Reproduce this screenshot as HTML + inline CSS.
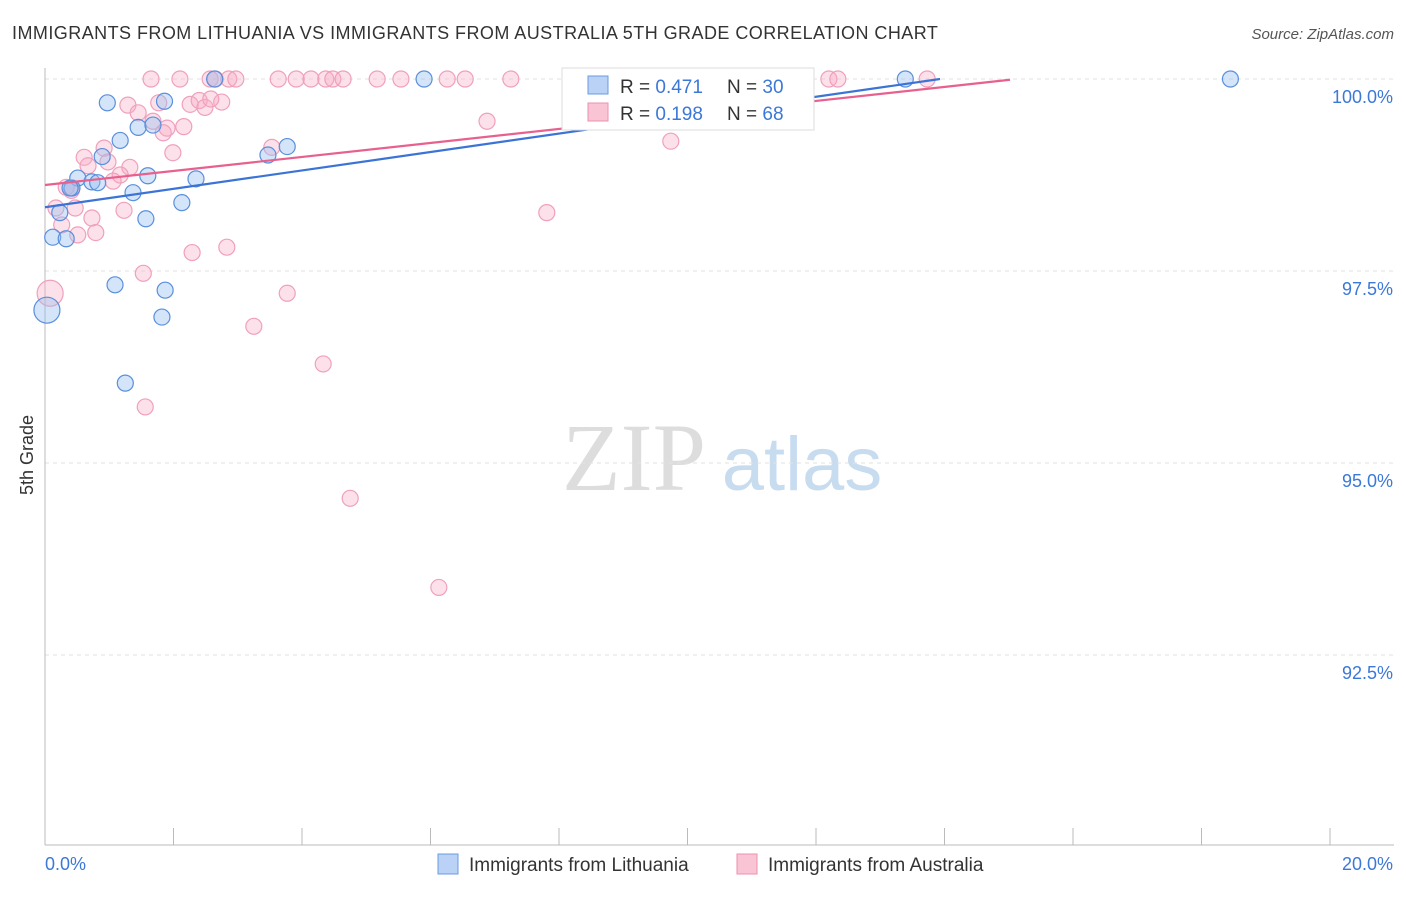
<!DOCTYPE html>
<html><head><meta charset="utf-8"><style>
body{margin:0;background:#fff;font-family:"Liberation Sans",sans-serif;}
svg text{font-family:"Liberation Sans",sans-serif;}
</style></head><body>
<svg id="chart" width="1406" height="892">
<text x="12" y="39" font-size="18" fill="#333" letter-spacing="0.45">IMMIGRANTS FROM LITHUANIA VS IMMIGRANTS FROM AUSTRALIA 5TH GRADE CORRELATION CHART</text>
<text x="1394" y="39" font-size="15" fill="#555" text-anchor="end" font-style="italic">Source: ZipAtlas.com</text>
<text x="33" y="455" font-size="18" fill="#333" transform="rotate(-90 33 455)" text-anchor="middle">5th Grade</text>
<g><text x="634" y="490" font-size="96" fill="#ddd" text-anchor="middle" font-family="Liberation Serif" style="font-family:'Liberation Serif',serif">ZIP</text><text x="802" y="490" font-size="76" fill="#c8dcf0" text-anchor="middle">atlas</text></g>
<g id="grid"></g><g id="axes"></g><g id="pts"></g><g id="trend"></g>
<g>
<rect x="562" y="68" width="252" height="62" fill="#fff" stroke="#ddd"/>
<rect x="588" y="76" width="20" height="18" fill="#b9d2f5" stroke="#6a9be0"/>
<rect x="588" y="103" width="20" height="18" fill="#f9c4d4" stroke="#ee8fae"/>
<text x="620" y="93" font-size="19" fill="#333">R = <tspan fill="#3b78d8">0.471</tspan></text>
<text x="727" y="93" font-size="19" fill="#333">N = <tspan fill="#3b78d8">30</tspan></text>
<text x="620" y="120" font-size="19" fill="#333">R = <tspan fill="#3b78d8">0.198</tspan></text>
<text x="727" y="120" font-size="19" fill="#333">N = <tspan fill="#3b78d8">68</tspan></text>
</g>
<g>
<rect x="438" y="854" width="20" height="20" fill="#b9d2f5" stroke="#6a9be0"/>
<text x="469" y="871" font-size="19" fill="#333">Immigrants from Lithuania</text>
<rect x="737" y="854" width="20" height="20" fill="#f9c4d4" stroke="#ee8fae"/>
<text x="768" y="871" font-size="19" fill="#333">Immigrants from Australia</text>
</g>
</svg>
<script>
const yTicks=[100,97.5,95,92.5];
const yTickLabels=["100.0%","97.5%","95.0%","92.5%"];
const xTickLabels=["0.0%","20.0%"];
const lithX=[0.97,1.86,2.64,5.9,13.39,18.45,1.45,1.68,1.17,3.47,3.77,0.89,0.51,0.73,0.82,0.42,1.6,2.35,1.37,2.13,0.23,1.57,0.12,0.33,1.09,1.87,1.82,0.03,1.25,0.39];
const lithY=[99.69,99.71,100,100,100,100,99.37,99.4,99.2,99.01,99.12,98.99,98.71,98.66,98.65,98.58,98.74,98.7,98.52,98.39,98.26,98.18,97.94,97.92,97.32,97.25,96.9,96.99,96.04,98.58];
const lithR=[8,8,8,8,8,8,8,8,8,8,8,8,8,8,8,8,8,8,8,8,8,8,8,8,8,8,8,13,8,8];
const ausX=[1.65,2.1,2.57,2.65,2.86,2.97,3.63,3.91,4.14,4.37,4.48,4.64,5.17,5.54,6.26,6.54,7.25,12.2,12.34,13.73,1.29,1.77,2.26,2.4,2.49,2.75,2.58,1.45,1.68,1.9,2.16,1.84,6.88,0.92,0.61,1.99,0.67,0.98,1.32,1.17,1.06,9.74,3.53,0.33,0.41,0.17,0.47,1.23,0.73,0.26,7.81,0.51,0.79,2.29,2.83,1.53,3.77,0.08,3.25,4.33,1.56,4.75,6.13];
const ausY=[100,100,100,100,100,100,100,100,100,100,100,100,100,100,100,100,100,100,100,100,99.66,99.69,99.67,99.72,99.63,99.7,99.74,99.56,99.45,99.36,99.38,99.3,99.45,99.1,98.98,99.04,98.87,98.92,98.85,98.75,98.67,99.19,99.11,98.59,98.55,98.32,98.32,98.29,98.19,98.1,98.26,97.97,98,97.74,97.81,97.47,97.21,97.21,96.78,96.29,95.73,94.54,93.38];
const blueTrend=[[0,98.33],[13.93,100]];
const pinkTrend=[[0,98.62],[15.02,99.99]];
const X=v=>45+v*64.25, Y=v=>79+(100-v)*76.8;
const NS="http://www.w3.org/2000/svg";
function mk(t,a,p){const e=document.createElementNS(NS,t);for(const k in a)e.setAttribute(k,a[k]);p.appendChild(e);return e;}
const grid=document.getElementById('grid'),axes=document.getElementById('axes'),pts=document.getElementById('pts'),tr=document.getElementById('trend');
yTicks.forEach((v,i)=>{const l=mk('line',{x1:45,x2:1394,y1:Y(v),y2:Y(v),stroke:'#e2e2e2','stroke-dasharray':'4 4'},grid);


const t=mk('text',{x:1393,y:Y(v)+24,'font-size':18,fill:'#3b78d8','text-anchor':'end'},axes);t.textContent=yTickLabels[i];

});
mk('line',{x1:45,x2:45,y1:68,y2:845,stroke:'#bbb'},axes);
mk('line',{x1:45,x2:1394,y1:845,y2:845,stroke:'#bbb'},axes);
for(let i=0;i<=10;i++){const tk=mk('line',{x1:X(i*2),x2:X(i*2),y1:828,y2:845,stroke:'#bbb'},axes);

}
[[45,'start',0],[1393,'end',1]].forEach(([x,a,i])=>{const t=mk('text',{x:x,y:870,'font-size':18,fill:'#3b78d8','text-anchor':a},axes);t.textContent=xTickLabels[i];

});
ausX.forEach((x,i)=>{const c=mk('circle',{cx:X(x),cy:Y(ausY[i]),r:x<0.1?13:8,fill:'rgba(246,170,195,0.35)',stroke:'#f0a0bb','stroke-width':1.2},pts);

});
lithX.forEach((x,i)=>{const c=mk('circle',{cx:X(x),cy:Y(lithY[i]),r:lithR[i],fill:'rgba(150,190,240,0.4)',stroke:'#5a8fdc','stroke-width':1.2},pts);

});
const b=mk('line',{x1:X(blueTrend[0][0]),y1:Y(blueTrend[0][1]),x2:X(blueTrend[1][0]),y2:Y(blueTrend[1][1]),stroke:'#3b74d6','stroke-width':2.2},tr);


const p=mk('line',{x1:X(pinkTrend[0][0]),y1:Y(pinkTrend[0][1]),x2:X(pinkTrend[1][0]),y2:Y(pinkTrend[1][1]),stroke:'#e8608d','stroke-width':2.2},tr);


</script>
</body></html>
